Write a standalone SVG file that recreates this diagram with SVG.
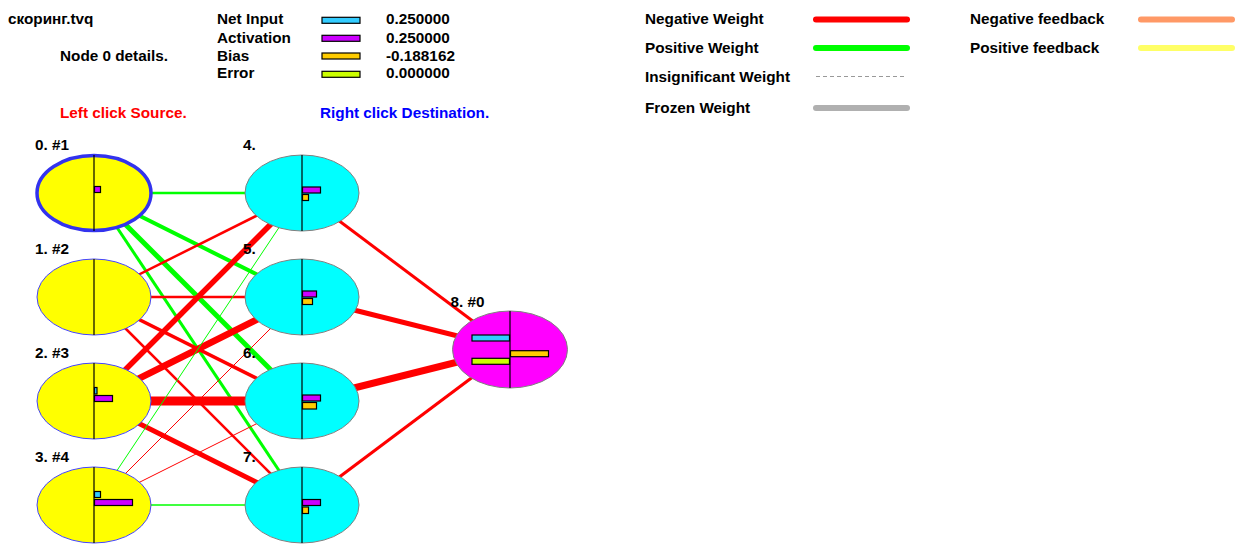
<svg xmlns="http://www.w3.org/2000/svg" width="1235" height="545" viewBox="0 0 1235 545">
<style>
text{font-family:"Liberation Sans",Arial,sans-serif;font-weight:bold;font-size:15.3px;fill:#000}
.in{fill:#ffff00;stroke:#4444ff;stroke-width:1}
.sel{fill:#ffff00;stroke:#3333ee;stroke-width:3.5}
.hid{fill:#00ffff;stroke:#808080;stroke-width:1}
.out{fill:#ff00ff;stroke:#808080;stroke-width:1}
.div{stroke:#000;stroke-width:1.2}
.bar{stroke:#000;stroke-width:1.2}
.ni{fill:#33ccff}.ac{fill:#cc00ff}.bi{fill:#ffcc00}.er{fill:#ccff00}
.neg{stroke:#ff0000;fill:none}
.pos{stroke:#00ff00;fill:none}
.leg{stroke-width:6;stroke-linecap:round}
</style>
<rect width="1235" height="545" fill="#ffffff"/>
<g id="header">
<text x="8" y="24">скоринг.tvq</text>
<text x="60" y="60.5">Node 0 details.</text>
<text x="217" y="24">Net Input</text>
<text x="217" y="42.5">Activation</text>
<text x="217" y="60.5">Bias</text>
<text x="217" y="78">Error</text>
<rect class="bar ni" x="322" y="17.3" width="38" height="6"/>
<rect class="bar ac" x="322" y="35.3" width="38" height="6"/>
<rect class="bar bi" x="322" y="53" width="38" height="6"/>
<rect class="bar er" x="322" y="71.3" width="38" height="6"/>
<text x="386" y="24">0.250000</text>
<text x="386" y="42.5">0.250000</text>
<text x="386" y="60.5">-0.188162</text>
<text x="386" y="78">0.000000</text>
<text x="60" y="118" style="fill:#ff0000">Left click Source.</text>
<text x="320" y="118" style="fill:#0000ff">Right click Destination.</text>
</g>
<g id="legend">
<text x="645" y="24">Negative Weight</text>
<text x="645" y="53">Positive Weight</text>
<text x="645" y="81.5">Insignificant Weight</text>
<text x="645" y="113">Frozen Weight</text>
<line class="leg" x1="816" y1="19.5" x2="907" y2="19.5" stroke="#ff0000"/>
<line class="leg" x1="816" y1="48" x2="907" y2="48" stroke="#00ff00"/>
<line x1="816" y1="76.5" x2="906" y2="76.5" stroke="#999999" stroke-width="1" stroke-dasharray="4,3"/>
<line class="leg" x1="816" y1="108" x2="907" y2="108" stroke="#b0b0b0"/>
<text x="970" y="24">Negative feedback</text>
<text x="970" y="53">Positive feedback</text>
<line class="leg" x1="1141" y1="19.5" x2="1232" y2="19.5" stroke="#ff9966"/>
<line class="leg" x1="1141" y1="48" x2="1232" y2="48" stroke="#ffff66"/>
</g>
<g id="connectors">
<line class="pos" x1="94" y1="193" x2="302" y2="193" stroke-width="2.5"/>
<line class="pos" x1="94" y1="193" x2="302" y2="297" stroke-width="4"/>
<line class="pos" x1="94" y1="193" x2="302" y2="401" stroke-width="5"/>
<line class="pos" x1="94" y1="193" x2="302" y2="505" stroke-width="3"/>
<line class="neg" x1="94" y1="297" x2="302" y2="193" stroke-width="2.5"/>
<line class="neg" x1="94" y1="297" x2="302" y2="297" stroke-width="2.5"/>
<line class="neg" x1="94" y1="297" x2="302" y2="401" stroke-width="3.5"/>
<line class="neg" x1="94" y1="297" x2="302" y2="505" stroke-width="2.5"/>
<line class="neg" x1="94" y1="401" x2="302" y2="193" stroke-width="5.5"/>
<line class="neg" x1="94" y1="401" x2="302" y2="297" stroke-width="6.5"/>
<line class="neg" x1="94" y1="401" x2="302" y2="401" stroke-width="9"/>
<line class="neg" x1="94" y1="401" x2="302" y2="505" stroke-width="5"/>
<line class="pos" x1="94" y1="505" x2="302" y2="193" stroke-width="1"/>
<line class="neg" x1="94" y1="505" x2="302" y2="297" stroke-width="1"/>
<line class="neg" x1="94" y1="505" x2="302" y2="401" stroke-width="1"/>
<line class="pos" x1="94" y1="505" x2="302" y2="505" stroke-width="1.5"/>
<line class="neg" x1="302" y1="193" x2="510" y2="349" stroke-width="3"/>
<line class="neg" x1="302" y1="297" x2="510" y2="349" stroke-width="5"/>
<line class="neg" x1="302" y1="401" x2="510" y2="349" stroke-width="7"/>
<line class="neg" x1="302" y1="505" x2="510" y2="349" stroke-width="3"/>
</g>
<g id="node0">
<ellipse class="sel" cx="94" cy="193" rx="57" ry="37.5"/>
<line class="div" x1="94" y1="155" x2="94" y2="231"/>
<rect class="bar ac" x="94.5" y="186.5" width="6" height="6"/>
<text x="35" y="150">0. #1</text>
</g>
<g id="node1">
<ellipse class="in" cx="94" cy="297" rx="57" ry="38"/>
<line class="div" x1="94" y1="259" x2="94" y2="335"/>
<text x="35" y="254">1. #2</text>
</g>
<g id="node2">
<ellipse class="in" cx="94" cy="401" rx="57" ry="38"/>
<line class="div" x1="94" y1="363" x2="94" y2="439"/>
<rect class="bar ni" x="94.5" y="387.5" width="2.5" height="6.5"/>
<rect class="bar ac" x="94.5" y="395.5" width="18" height="6"/>
<text x="35" y="358">2. #3</text>
</g>
<g id="node3">
<ellipse class="in" cx="94" cy="505" rx="57" ry="38"/>
<line class="div" x1="94" y1="467" x2="94" y2="543"/>
<rect class="bar ni" x="94.5" y="491.5" width="6" height="6"/>
<rect class="bar ac" x="94.5" y="499.5" width="38" height="6"/>
<text x="35" y="462">3. #4</text>
</g>
<g id="node4">
<ellipse class="hid" cx="302" cy="193" rx="57" ry="38"/>
<line class="div" x1="302" y1="155" x2="302" y2="231"/>
<rect class="bar ac" x="302.5" y="187" width="18" height="6"/>
<rect class="bar bi" x="302.5" y="194.5" width="6" height="6"/>
<text x="243" y="150">4.</text>
</g>
<g id="node5">
<ellipse class="hid" cx="302" cy="297" rx="57" ry="38"/>
<line class="div" x1="302" y1="259" x2="302" y2="335"/>
<rect class="bar ac" x="302.5" y="291" width="14" height="6"/>
<rect class="bar bi" x="302.5" y="298.5" width="10" height="6"/>
<text x="243" y="254">5.</text>
</g>
<g id="node6">
<ellipse class="hid" cx="302" cy="401" rx="57" ry="38"/>
<line class="div" x1="302" y1="363" x2="302" y2="439"/>
<rect class="bar ac" x="302.5" y="395" width="18" height="6"/>
<rect class="bar bi" x="302.5" y="402.5" width="14" height="6.5"/>
<text x="243" y="358">6.</text>
</g>
<g id="node7">
<ellipse class="hid" cx="302" cy="505" rx="57" ry="38"/>
<line class="div" x1="302" y1="467" x2="302" y2="543"/>
<rect class="bar ac" x="302.5" y="499.5" width="18" height="6"/>
<rect class="bar bi" x="302.5" y="507" width="6" height="6.5"/>
<text x="243" y="462">7.</text>
</g>
<g id="node8">
<ellipse class="out" cx="510" cy="349.5" rx="57.5" ry="38.5"/>
<line class="div" x1="510" y1="311" x2="510" y2="388"/>
<rect class="bar ni" x="472" y="335" width="37.5" height="6"/>
<rect class="bar bi" x="510.5" y="350.7" width="38" height="6"/>
<rect class="bar er" x="472" y="358.3" width="37.5" height="6"/>
<text x="450.5" y="307">8. #0</text>
</g>
</svg>
